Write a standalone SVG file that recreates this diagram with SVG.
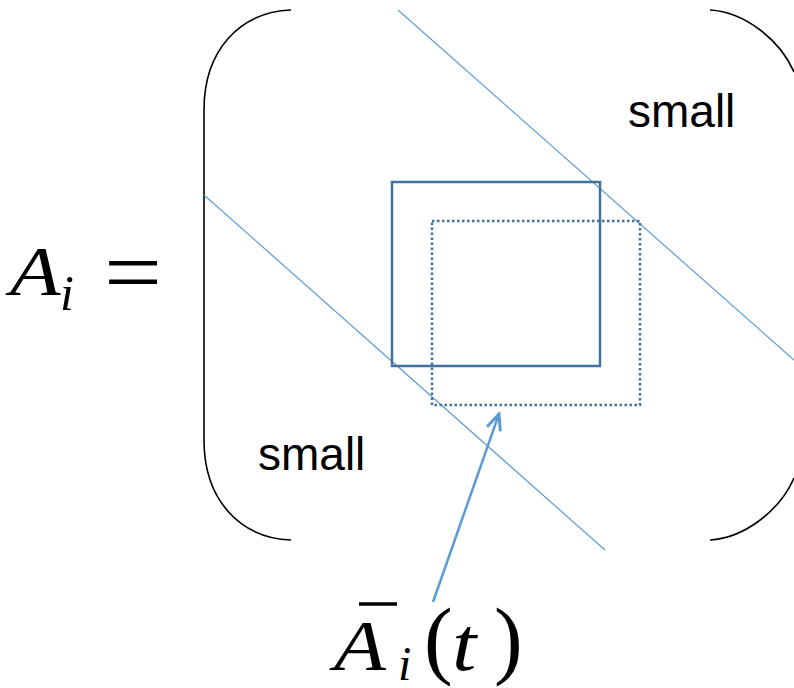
<svg xmlns="http://www.w3.org/2000/svg" width="794" height="688" viewBox="0 0 794 688">
<style>
.br{fill:none;stroke:#000;stroke-width:1.6}
.diag{stroke:#5b9bd5;stroke-width:1.2}
.lbl{font-family:"Liberation Sans",Arial,sans-serif;font-size:46px;fill:#000}
.math{font-family:"Liberation Serif","Times New Roman",serif;font-style:italic;fill:#000}
.up{font-family:"Liberation Serif","Times New Roman",serif;fill:#000}
</style>
<defs>
<marker id="ah" viewBox="0 0 20 20" refX="18" refY="10" markerWidth="20" markerHeight="20" markerUnits="userSpaceOnUse" orient="auto">
<path d="M2,3 L18,10 L2,17" fill="none" stroke="#5b9bd5" stroke-width="3"/>
</marker>
</defs>
<rect width="794" height="688" fill="#fff"/>
<g id="matrix">
<path class="br" d="M291,10 C240,12 204,50 204,110 L204,440 C204,500 240,538 291,540"/>
<path class="br" d="M710,10 C745,12 780,40 794,72"/>
<path class="br" d="M710,540 C745,538 780,510 794,478"/>
</g>
<g id="bands">
<line class="diag" x1="398" y1="10" x2="794" y2="360"/>
<line class="diag" x1="204" y1="195" x2="605" y2="550"/>
</g>
<g id="block">
<rect x="392" y="182" width="208" height="184" fill="none" stroke="#41719c" stroke-width="2.5"/>
</g>
<g id="block-bar">
<rect x="432" y="221" width="208" height="184" fill="none" stroke="#41719c" stroke-width="2.5" stroke-dasharray="2.5 2.5"/>
</g>
<g id="labels">
<text class="lbl" x="628" y="127">small</text>
<text class="lbl" x="258" y="470">small</text>
</g>
<g id="lhs">
<text class="math" font-size="70" transform="translate(10,295) scale(1.18,1)">A</text>
<text class="math" font-size="50" x="60" y="310">i</text>
<text class="up" font-size="92" transform="translate(104,303) scale(1.12,1)">=</text>
</g>
<g id="abar">
<line x1="359" y1="604" x2="397" y2="604" stroke="#000" stroke-width="3.5"/>
<text class="math" font-size="72" transform="translate(334,670) scale(1.18,1)">A</text>
<text class="math" font-size="48" x="398" y="680">i</text>
<text class="up" font-size="86" x="424" y="668">(</text>
<text class="math" font-size="76" transform="translate(452,670) scale(1.15,1)">t</text>
<text class="up" font-size="86" x="494" y="668">)</text>
</g>
<g id="connectors">
<line x1="433" y1="602" x2="499" y2="414" stroke="#5b9bd5" stroke-width="2.5" marker-end="url(#ah)"/>
</g>
</svg>
